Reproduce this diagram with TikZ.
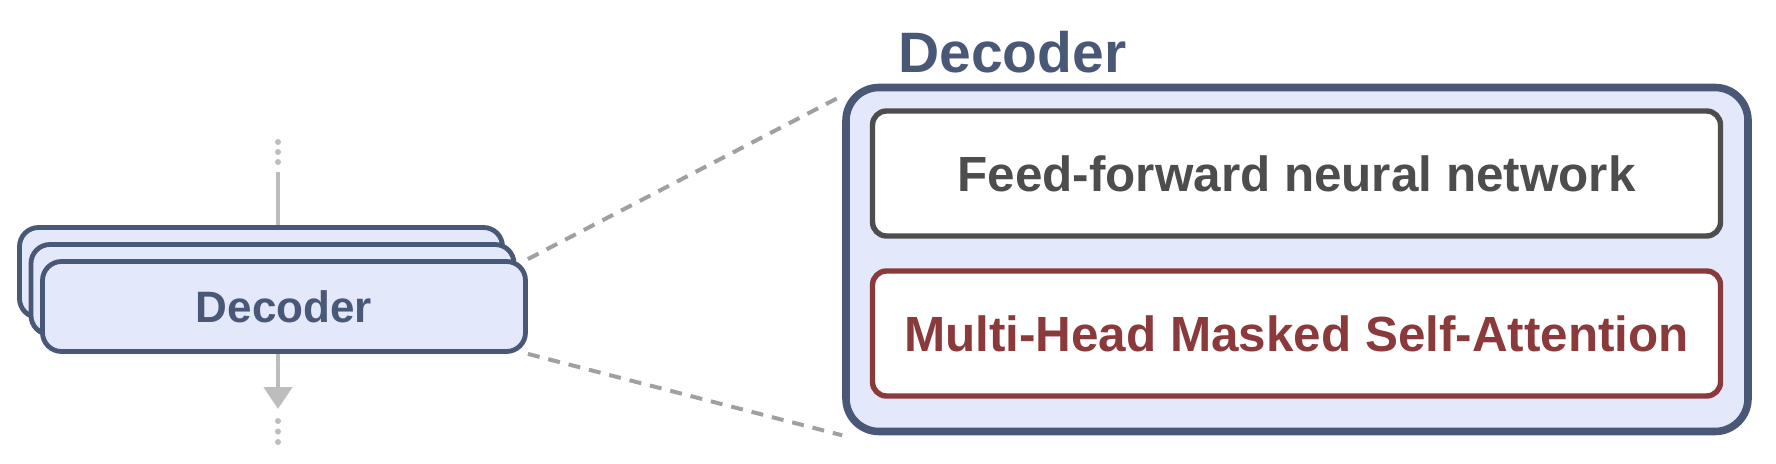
\documentclass[tikz,border=0pt]{standalone}
\usepackage{fontspec}
\setmainfont{Liberation Sans}
\usetikzlibrary{arrows.meta}
\definecolor{navy}{HTML}{4A5878}
\definecolor{lav}{HTML}{E3E8FB}
\definecolor{ink}{HTML}{4D4D4D}
\definecolor{wine}{HTML}{8B3A3C}
\definecolor{flow}{HTML}{BDBDBD}
\definecolor{zoomgray}{HTML}{A0A0A0}

\begin{document}
\begin{tikzpicture}[x=0.5pt, y=-0.5pt]
	\tikzstyle{every node}=[inner sep=0pt, align=center, font=\bfseries]
	\tikzstyle{layer}=[draw=navy, fill=lav, line width=2.4pt, rounded corners=9.5pt, minimum width=241.5pt, minimum height=45pt]
	\tikzstyle{sub}=[fill=white, line width=2.7pt, rounded corners=7pt, minimum width=424pt, minimum height=62.5pt, font=\fontsize{24.7}{28}\selectfont\bfseries]
	\useasboundingbox (0,0) rectangle (1776,464);
	% flow through the stack
	\coordinate (in) at (278,172);
	\coordinate (out) at (278,409);
	\draw [flow, line width=2.3pt, -{Triangle[length=11pt, width=14pt]}] (in) -- (out);
	\foreach \y in {142,152,162,421,431.5,442}
		\fill [flow] (278,\y) circle (1.5pt);
	% stacked decoders
	\node[layer] (dec3) at (261,272.5) {};
	\node[layer] (dec2) at (272.5,289.5) {};
	\node[layer, text=navy, font=\fontsize{22}{26}\selectfont\bfseries] (dec1) at (284,306.5) {Decoder};
	% zoomed decoder
	\node[draw=navy, fill=lav, line width=3.8pt, rounded corners=16.5pt, minimum width=451pt, minimum height=172pt] (big) at (1297,259.5) {};
	\node[anchor=base west, text=navy, font=\fontsize{28.5}{32}\selectfont\bfseries] (title) at (898,73) {Decoder};
	\node[sub, draw=ink, text=ink] (ffn) at (1296.5,173.5) {Feed-forward neural network};
	\node[sub, draw=wine, text=wine] (mhsa) at (1296.5,333.5) {Multi-Head Masked Self-Attention};
	\draw [zoomgray, line width=2pt, dash pattern=on 6pt off 4.5pt] (dec1.north east) -- ([yshift=-6pt]big.north west);
	\draw [zoomgray, line width=2pt, dash pattern=on 6pt off 4.5pt] (dec1.south east) -- (big.south west);
\end{tikzpicture}
\end{document}
